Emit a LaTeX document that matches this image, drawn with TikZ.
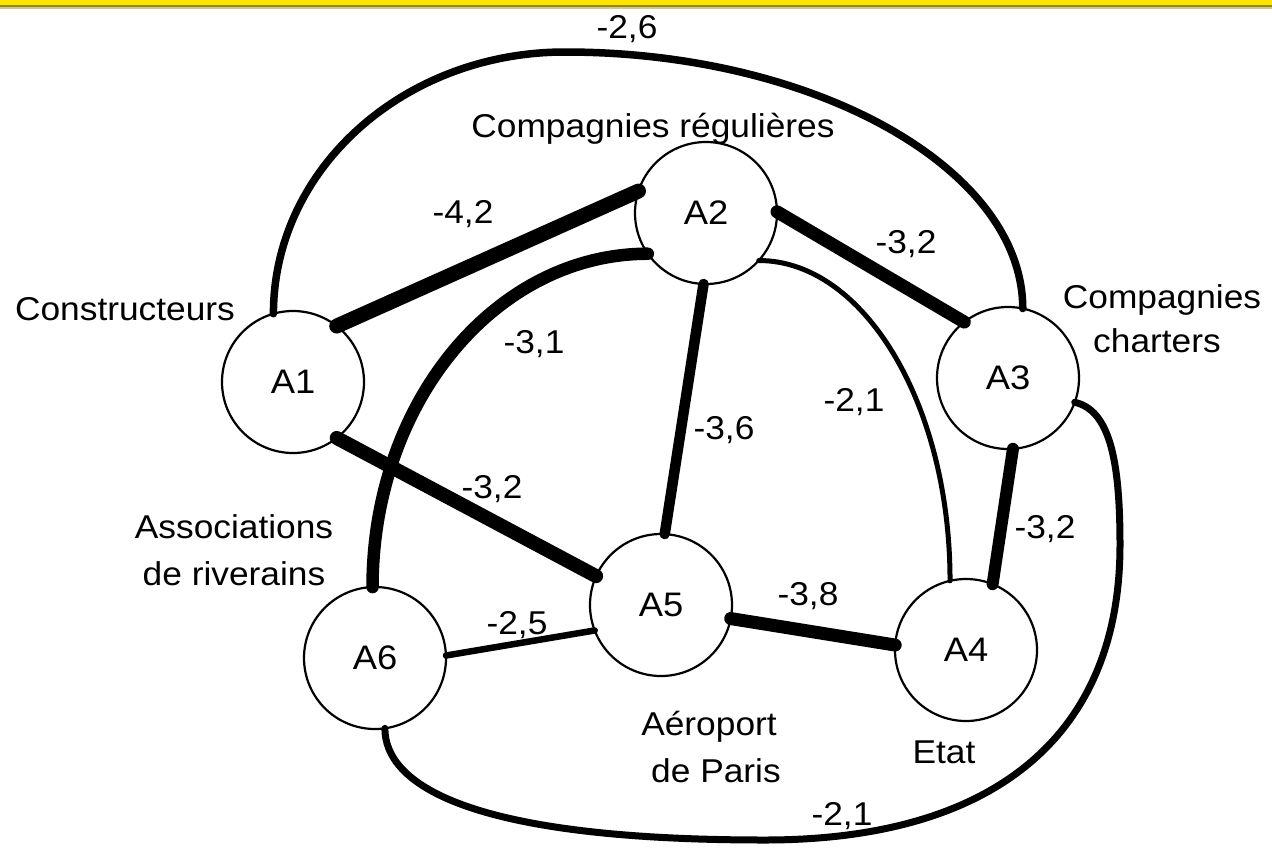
\documentclass[tikz,border=0pt]{standalone}
\usepackage{fontspec}
\setmainfont[FakeStretch=1.07]{Liberation Sans}
\definecolor{barYellow}{RGB}{255,228,0}
\definecolor{barDark}{RGB}{150,135,0}
\definecolor{barLight}{RGB}{205,198,150}
\begin{document}
\begin{tikzpicture}[x=1pt,y=-1pt,
  actor/.style={circle, draw, line width=2.2pt, minimum size=142pt, inner sep=0pt, outer sep=0pt, fill=white, font=\fontsize{34}{40}\selectfont},
  link/.style={line cap=round, draw=black},
  lbl/.style={anchor=base, inner sep=0pt, font=\fontsize{33}{40}\selectfont}]
\useasboundingbox (0,0) rectangle (1272,847);
\fill[white] (0,0) rectangle (1272,847);
\fill[barYellow] (0,0) rectangle (1272,5);
\fill[barDark] (0,5) rectangle (1272,7);
\fill[barLight] (0,7) rectangle (1272,8.5);

% actors
\node[actor] (A1) at (293,382) {A1};
\node[actor] (A2) at (706,213) {A2};
\node[actor] (A3) at (1008,378) {A3};
\node[actor] (A4) at (966,650) {A4};
\node[actor] (A5) at (661,605) {A5};
\node[actor] (A6) at (375,658) {A6};

% helper coordinates
\coordinate (top) at (565,52);
\coordinate (rgt) at (1120,545);
\coordinate (bot) at (765,840);

% connectors
\draw[link, line width=7.5pt] (A1.106) .. controls +(0,-145) and +(-161,0) .. (top)
      .. controls +(250,0) and +(0,-140) .. (A3.78);
\draw[link, line width=15pt] (A1.52) -- (A2.162);
\draw[link, line width=13pt] (A2.1) -- (A3.128);
\draw[link, line width=12.5pt] (A2.215) .. controls +(-152,0) and +(0,-185) .. (A6.92);
\draw[link, line width=10.5pt] (A2.268) -- (A5.87);
\draw[link, line width=5pt] (A2.318) .. controls +(105,0) and +(0,-177) .. (A4.103);
\draw[link, line width=14pt] (A1.-52) -- (A5.156);
\draw[link, line width=12pt] (A3.274) -- (A4.68);
\draw[link, line width=13pt] (A5.-11) -- (A4.176);
\draw[link, line width=6.5pt] (A6.2) -- (A5.201);
\draw[link, line width=7pt] (A3.340) .. controls +(35,8) and +(0,-85) .. (rgt)
      .. controls +(0,190) and +(230,0) .. (bot)
      .. controls +(-300,0) and +(0,55) .. (A6.278);

% weights
\node[lbl] (w26) at (627,38) {-2,6};
\node[lbl] (w42) at (463,223) {-4,2};
\node[lbl] (w32a) at (906,253) {-3,2};
\node[lbl] (w31) at (534,353) {-3,1};
\node[lbl] (w36) at (724,439) {-3,6};
\node[lbl] (w21a) at (854,411) {-2,1};
\node[lbl] (w32b) at (492,498) {-3,2};
\node[lbl] (w32c) at (1045,538) {-3,2};
\node[lbl] (w25) at (517,634) {-2,5};
\node[lbl] (w38) at (808,605) {-3,8};
\node[lbl] (w21b) at (842,825) {-2,1};

% actor names
\node[lbl] (n2) at (653,137) {Compagnies régulières};
\node[lbl] (n1) at (125,320) {Constructeurs};
\node[lbl] (n3a) at (1162,308) {Compagnies};
\node[lbl] (n3b) at (1157,352) {charters};
\node[lbl] (n6a) at (234,538) {Associations};
\node[lbl] (n6b) at (234,585) {de riverains};
\node[lbl] (n5a) at (709,735) {Aéroport};
\node[lbl] (n5b) at (716,782) {de Paris};
\node[lbl] (n4) at (944,763) {Etat};
\end{tikzpicture}
\end{document}
